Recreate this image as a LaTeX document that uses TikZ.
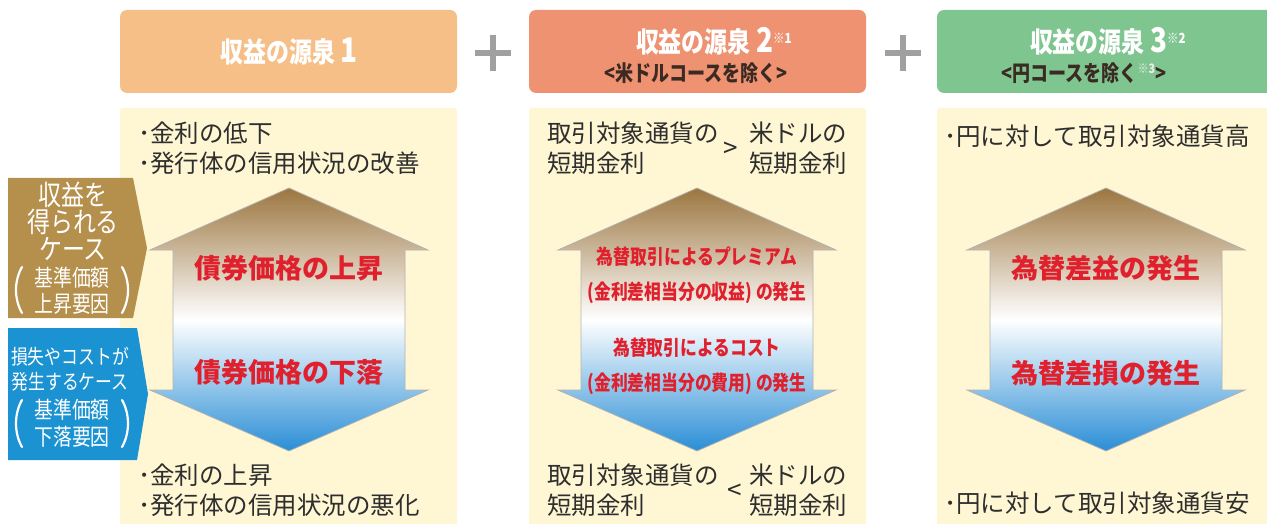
\documentclass[tikz,border=0pt]{standalone}
\usepackage{fontspec}
\setmainfont{Noto Sans CJK JP}
\newfontfamily\jpnarrow[FakeStretch=0.82]{Noto Sans CJK JP}
\usepackage{tikz}
\usetikzlibrary{positioning}
\definecolor{hdrone}{HTML}{F7BF88}
\definecolor{hdrtwo}{HTML}{EE9272}
\definecolor{hdrthree}{HTML}{7FC590}
\definecolor{panelbg}{HTML}{FFF7D4}
\definecolor{goldcase}{HTML}{B58F4C}
\definecolor{bluecase}{HTML}{1B93D3}
\definecolor{arrowtop}{HTML}{9C7640}
\definecolor{arrowbot}{HTML}{2A8ED6}
\definecolor{redtxt}{HTML}{E0202C}
\definecolor{plusgray}{HTML}{A0A0A0}
\definecolor{bodytxt}{HTML}{2E2E2E}
\definecolor{notetxt}{HTML}{3A2A22}
% double arrow of one panel, centred on x=#1
\newcommand{\pricearrow}[1]{%
  \path[arrowfill] (#1,188) -- (#1+139,250) -- (#1+116,250) -- (#1+116,390)
    -- (#1+139,390) -- (#1,451) -- (#1-139,390) -- (#1-116,390)
    -- (#1-116,250) -- (#1-139,250) -- cycle;}
% big round brackets round the two lower lines of a case label
\newcommand{\casebrackets}[2]{%
  \draw[bracket] (22,#1) .. controls (14,#1+14) and (14,#2-14) .. (22,#2);
  \draw[bracket] (122,#1) .. controls (130,#1+14) and (130,#2-14) .. (122,#2);}
\begin{document}
\begin{tikzpicture}[x=1pt,y=-1pt]
          \tikzstyle{every node}=[inner sep=0pt,text=bodytxt]
          \tikzstyle{header}=[rounded corners=7pt,minimum width=337pt,minimum height=83pt]
          \tikzstyle{panel}=[fill=panelbg,rounded corners=3pt,minimum width=337pt,minimum height=424pt]
          \tikzstyle{arrowfill}=[draw=gray!60,line width=.8pt,top color=arrowtop,bottom color=arrowbot,middle color=white]
          \tikzstyle{title}=[text=white,font=\jpnarrow\bfseries\fontsize{28}{30}\selectfont]
          \tikzstyle{note}=[text=notetxt,font=\jpnarrow\bfseries\fontsize{22}{24}\selectfont]
          \tikzstyle{bodyline}=[anchor=west,align=left,font=\fontsize{24.5}{30}\selectfont]
          \tikzstyle{effect}=[text=redtxt,font=\bfseries\fontsize{27}{32}\selectfont]
          \tikzstyle{smalleffect}=[text=redtxt,align=center,font=\jpnarrow\bfseries\fontsize{20.5}{35}\selectfont]
          \tikzstyle{casetext}=[text=white,align=center]
          \tikzstyle{bracket}=[white,line width=2.2pt,line cap=round]
          \tikzstyle{plussign}=[plusgray,line width=6pt]
          \useasboundingbox (0,0) rectangle (1267,524);
          % 
          \node [header,fill=hdrone]   (src1) at (288.5,51.5)  {};
          \node [header,fill=hdrtwo]   (src2) at (697.5,51.5)  {};
          \node [header,fill=hdrthree] (src3) at (1105.5,51.5) {};
          \node [title] (src1title) at (289,52) {収益の源泉 {\fontsize{34}{34}\selectfont 1}};
          \node [title] (src2title) at (714,41) {収益の源泉 {\fontsize{34}{34}\selectfont 2}\textsuperscript{\fontsize{14}{14}\selectfont ※1}};
          \node [note]  (src2note)  at (696,73) {<米ドルコースを除く>};
          \node [title] (src3title) at (1108,41) {収益の源泉 {\fontsize{34}{34}\selectfont 3}\textsuperscript{\fontsize{14}{14}\selectfont ※2}};
          \node [note]  (src3note)  at (1084,73) {<円コースを除く\textsuperscript{\textcolor{white!85!gray}{\fontsize{13}{13}\selectfont ※3}}>};
          % 
          \draw [plussign] (475,53) -- (511,53) (493,35) -- (493,71);
          \draw [plussign] (885,53) -- (921,53) (903,35) -- (903,71);
          % 
          \node [panel] (body1) at (288.5,320) {};
          \node [panel] (body2) at (697.5,320) {};
          \node [panel] (body3) at (1105.5,320) {};
          % 
          \pricearrow{289}
          \pricearrow{697}
          \pricearrow{1106}
          % 
          \node [bodyline] (rise1) at (138,148) {･金利の低下\\･発行体の信用状況の改善};
          \node [bodyline] (fall1) at (138,490) {･金利の上昇\\･発行体の信用状況の悪化};
          \node [effect] (up1)   at (289,268) {債券価格の上昇};
          \node [effect] (down1) at (289,372) {債券価格の下落};
          % 
          \node [bodyline] (rise2l) at (547,148) {取引対象通貨の\\短期金利};
          \node [font=\fontsize{26}{26}\selectfont] (gt) at (731,150) {>};
          \node [bodyline] (rise2r) at (749,148) {米ドルの\\短期金利};
          \node [bodyline] (fall2l) at (547,490) {取引対象通貨の\\短期金利};
          \node [font=\fontsize{26}{26}\selectfont] (lt) at (735,492) {<};
          \node [bodyline] (fall2r) at (749,490) {米ドルの\\短期金利};
          \node [smalleffect] (up2)   at (697,275.5) {為替取引によるプレミアム\\(金利差相当分の収益) の発生};
          \node [smalleffect] (down2) at (697,366.5) {為替取引によるコスト\\(金利差相当分の費用) の発生};
          % 
          \node [bodyline] (rise3) at (944,136) {･円に対して取引対象通貨高};
          \node [bodyline] (fall3) at (944,503) {･円に対して取引対象通貨安};
          \node [effect] (up3)   at (1106,268) {為替差益の発生};
          \node [effect] (down3) at (1106,373) {為替差損の発生};
          % 
          \fill [goldcase] (8,178) -- (133,178) -- (147,248) -- (133,318) -- (8,318) -- cycle;
          \fill [bluecase] (8,328) -- (137,328) -- (148,394) -- (137,460) -- (8,460) -- cycle;
          \node [casetext,font=\jpnarrow\fontsize{28}{27}\selectfont] (gaincase) at (73,221) {収益を\\得られる\\ケース};
          \node [casetext,font=\jpnarrow\fontsize{23}{26}\selectfont] (gainbasis) at (72,291) {基準価額\\上昇要因};
          \casebrackets{267}{313}
          \node [casetext,font=\jpnarrow\fontsize{20.5}{25}\selectfont] (losscase) at (70,369.5) {損失やコストが\\発生するケース};
          \node [casetext,font=\jpnarrow\fontsize{23}{27}\selectfont] (lossbasis) at (72,423.5) {基準価額\\下落要因};
          \casebrackets{400}{447}
\end{tikzpicture}
\end{document}
